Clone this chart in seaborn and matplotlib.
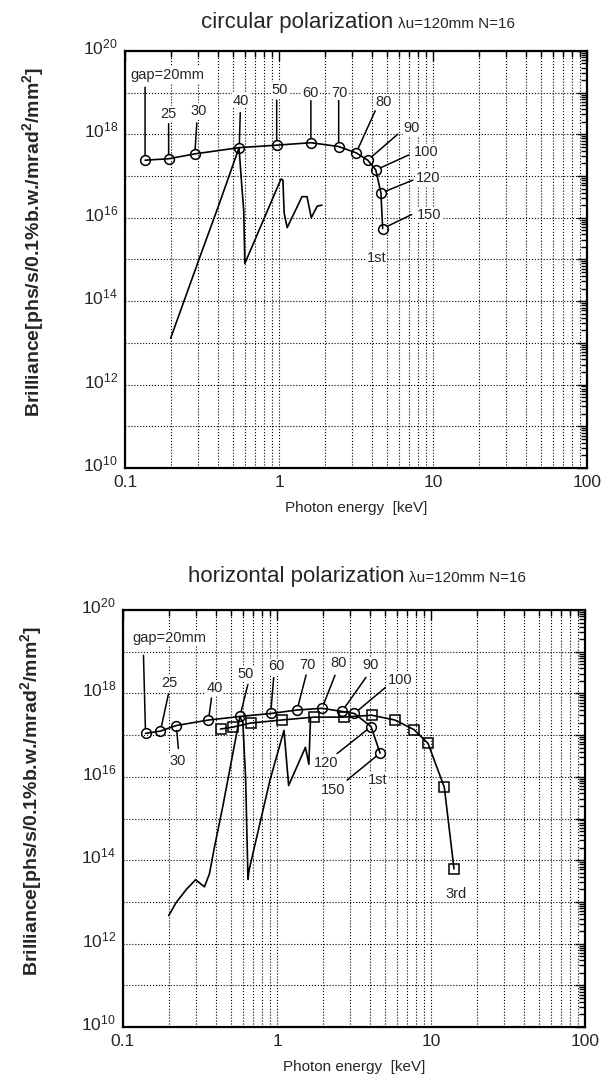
import numpy as np
import seaborn as sns
import matplotlib.pyplot as plt
from matplotlib.ticker import LogLocator, FuncFormatter, NullFormatter
from matplotlib.transforms import ScaledTranslation

# gap values of the undulator (mm)
gaps = [20, 25, 30, 40, 50, 60, 70, 80, 90, 100, 120, 150]

# circular polarization, 1st harmonic (circles)
circ_energy = [0.135, 0.192, 0.284, 0.552, 0.966, 1.61, 2.44, 3.17, 3.77, 4.25, 4.59, 4.71]
circ_bril = [2.4e17, 2.6e17, 3.4e17, 4.8e17, 5.5e17, 6.3e17, 5.1e17, 3.6e17, 2.4e17, 1.4e17, 3.9e16, 5.5e15]

# circular polarization, spectrum at gap=40mm
circ_spec_energy = [0.198, 0.305, 0.41, 0.55, 0.575, 0.59, 0.60, 1.03, 1.06, 1.08, 1.13, 1.41, 1.52, 1.62, 1.77, 1.90]
circ_spec_bril = [1.3e13, 1.1e15, 2.2e16, 4.8e17, 5e16, 1.5e16, 8e14, 8.5e16, 8e16, 1.3e16, 5.8e15, 3.2e16, 3.2e16, 1.0e16, 1.9e16, 2.0e16]

# horizontal polarization, 1st harmonic (circles)
hor_energy = [0.14, 0.175, 0.222, 0.359, 0.574, 0.91, 1.35, 1.96, 2.64, 3.18, 4.08, 4.67]
hor_bril = [1.1e17, 1.25e17, 1.7e17, 2.3e17, 2.8e17, 3.3e17, 4.0e17, 4.4e17, 3.7e17, 3.3e17, 1.6e17, 3.7e16]

# horizontal polarization, 3rd harmonic (squares)
hor3_energy = [0.43, 0.515, 0.676, 1.07, 1.73, 2.71, 4.12, 5.83, 7.76, 9.57, 12.2, 14.1]
hor3_bril = [1.4e17, 1.55e17, 1.95e17, 2.3e17, 2.7e17, 2.7e17, 3.0e17, 2.3e17, 1.35e17, 6.3e16, 5.6e15, 6.2e13]

# horizontal polarization, spectrum at gap=50mm
hor_spec_energy = [0.198, 0.222, 0.258, 0.296, 0.338, 0.364, 0.392, 0.444, 0.574, 0.60, 0.625, 0.648,
                   0.66, 0.90, 1.11, 1.19, 1.53, 1.61, 1.65]
hor_spec_bril = [4.7e12, 9.8e12, 2.0e13, 3.4e13, 2.3e13, 4.7e13, 2.0e14, 1.9e15, 2.8e17, 2.0e17, 1e16, 3.5e13,
                 6e13, 8.3e15, 1.3e17, 6.2e15, 5.1e16, 2.0e16, 2.5e17]

gap_labels = ['gap=20mm'] + [str(g) for g in gaps[1:]]

# label placement (pixel offsets from each marker: line end, text centre)
circ_line_off = [(0, 73), (0, 35), (2, 31), (1, 35), (0, 45), (0, 42), (0, 46), (19, 42), (30, 26), (33, 15), (32, 13), (29, 14)]
circ_text_off = [(22, 85), (0, 45), (4, 43), (2, 47), (3, 55), (0, 50), (1, 54), (27, 51), (44, 32), (50, 18), (47, 15), (46, 14)]
hor_line_off = [(-2, 78), (8, 37), (2, -23), (3, 22), (8, 32), (3, 36), (9, 35), (13, 33), (24, 34), (31, 26), (-34, -27), (-33, -27)]
hor_text_off = [(24, 95), (9, 48), (1, -35), (6, 32), (6, 42), (6, 47), (10, 45), (17, 45), (29, 46), (46, 33), (-45, -36), (-47, -37)]

PT = 0.72  # px -> pt at dpi 100

sns.set_style('white')
plt.rcParams['font.family'] = ['Liberation Sans', 'DejaVu Sans']
plt.rcParams['mathtext.fontset'] = 'custom'
plt.rcParams['mathtext.rm'] = 'Liberation Sans'
plt.rcParams['mathtext.bf'] = 'Liberation Sans:bold'

fig = plt.figure(figsize=(6.08, 10.77), dpi=100)
ax_top = fig.add_axes([0.2056, 0.5655, 0.7599, 0.3872])
ax_bot = fig.add_axes([0.2023, 0.0464, 0.7599, 0.3872])


def ylab(v, pos):
    e = int(round(np.log10(v)))
    return r'$\mathdefault{10^{%d}}$' % e if e % 2 == 0 else ''


def style_axes(ax):
    ax.set_xscale('log')
    ax.set_yscale('log')
    ax.set_xlim(0.1, 100)
    ax.set_ylim(1e10, 1e20)
    ax.yaxis.set_major_locator(LogLocator(base=10, numticks=30))
    ax.yaxis.set_minor_locator(LogLocator(base=10, subs=np.arange(2, 10), numticks=200))
    ax.yaxis.set_major_formatter(FuncFormatter(ylab))
    ax.yaxis.set_minor_formatter(NullFormatter())
    ax.xaxis.set_major_locator(LogLocator(base=10, numticks=10))
    ax.xaxis.set_minor_locator(LogLocator(base=10, subs=np.arange(2, 10), numticks=100))
    ax.xaxis.set_major_formatter(FuncFormatter(lambda v, p: '%g' % v))
    ax.xaxis.set_minor_formatter(NullFormatter())
    ax.tick_params(which='both', direction='in', top=True, right=True, width=1, color='k')
    ax.tick_params(which='major', length=7, labelsize=12.5, pad=5)
    ax.tick_params(which='minor', length=4)
    ax.grid(which='major', axis='both', ls=':', color='k', lw=0.8)
    ax.grid(which='minor', axis='x', ls=':', color='k', lw=0.8)
    for s in ax.spines.values():
        s.set_linewidth(1.6)
        s.set_color('k')
    ax.set_xlabel('Photon energy  [keV]', fontsize=11)
    ax.xaxis.set_label_coords(0.5, -0.08)
    ax.set_ylabel(r'Brilliance[phs/s/0.1%b.w./mrad$\mathbf{^2}$/mm$\mathbf{^2}$]', fontsize=14, fontweight='bold')
    ax.yaxis.set_label_coords(-0.172, 0.543)
    # tick labels sit a little above their grid lines in the original
    shift = ScaledTranslation(0, 5 / 100, fig.dpi_scale_trans)
    for lab in ax.get_yticklabels():
        lab.set_transform(lab.get_transform() + shift)


def curve(ax, x, y, marker=None):
    kw = dict(color='k', lw=1.2)
    if marker:
        kw.update(marker=marker, markersize=7, markerfacecolor='none',
                  markeredgecolor='k', markeredgewidth=1.1)
    sns.lineplot(x=x, y=y, ax=ax, sort=False, estimator=None, **kw)


def annotate_gaps(ax, energy, bril, line_off, text_off):
    for lab, x, y, (lx, ly), (tx, ty) in zip(gap_labels, energy, bril, line_off, text_off):
        ax.annotate('', xy=(x, y), xytext=(lx * PT, ly * PT), textcoords='offset points',
                    arrowprops=dict(arrowstyle='-', lw=1.1, color='k', shrinkA=0, shrinkB=3.5))
        ax.annotate(lab, xy=(x, y), xytext=(tx * PT, ty * PT), textcoords='offset points',
                    ha='center', va='center', fontsize=10.5,
                    bbox=dict(boxstyle='square,pad=0.05', fc='white', ec='none'))


for ax in (ax_top, ax_bot):
    ax.set_xscale('log')
    ax.set_yscale('log')

curve(ax_top, circ_spec_energy, circ_spec_bril)
curve(ax_top, circ_energy, circ_bril, marker='o')
annotate_gaps(ax_top, circ_energy, circ_bril, circ_line_off, circ_text_off)
ax_top.annotate('1st', xy=(circ_energy[-1], circ_bril[-1]), xytext=(-6 * PT, -29 * PT),
                textcoords='offset points', ha='center', va='center', fontsize=10.5,
                bbox=dict(boxstyle='square,pad=0.05', fc='white', ec='none'))

curve(ax_bot, hor_spec_energy, hor_spec_bril)
curve(ax_bot, hor3_energy, hor3_bril, marker='s')
curve(ax_bot, hor_energy, hor_bril, marker='o')
annotate_gaps(ax_bot, hor_energy, hor_bril, hor_line_off, hor_text_off)
ax_bot.annotate('1st', xy=(hor_energy[-1], hor_bril[-1]), xytext=(-2 * PT, -27 * PT),
                textcoords='offset points', ha='center', va='center', fontsize=10.5,
                bbox=dict(boxstyle='square,pad=0.05', fc='white', ec='none'))
ax_bot.annotate('3rd', xy=(hor3_energy[-1], hor3_bril[-1]), xytext=(2 * PT, -25 * PT),
                textcoords='offset points', ha='center', va='center', fontsize=10.5,
                bbox=dict(boxstyle='square,pad=0.05', fc='white', ec='none'))

for ax in (ax_top, ax_bot):
    style_axes(ax)
    if ax.get_legend():
        ax.get_legend().remove()

fig.text(0.6464, 0.974, 'circular polarization', ha='right', va='baseline', fontsize=16)
fig.text(0.6546, 0.974, 'λu=120mm N=16', ha='left', va='baseline', fontsize=11)
fig.text(0.666, 0.4596, 'horizontal polarization', ha='right', va='baseline', fontsize=16)
fig.text(0.6727, 0.4596, 'λu=120mm N=16', ha='left', va='baseline', fontsize=11)

fig.savefig('out.png', dpi=100)
